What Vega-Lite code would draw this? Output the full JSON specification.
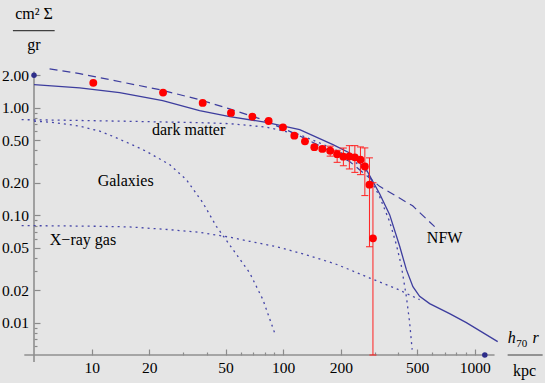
{
  "$schema": "https://vega.github.io/schema/vega-lite/v6.json",
  "width": 511,
  "height": 355,
  "autosize": {"type": "none"},
  "padding": {"left": 34, "top": 0, "right": 0, "bottom": 28},
  "background": "#e5e5e5",
  "config": {"view": {"stroke": null}, "font": "Liberation Serif", "text": {"font": "Liberation Serif"}},
  "datasets": {
    "curves": [
      {"s": "total", "r": 5, "v": 1.637}, {"s": "total", "r": 8.66, "v": 1.525}, {"s": "total", "r": 14.0, "v": 1.379}, {"s": "total", "r": 23.5, "v": 1.162}, {"s": "total", "r": 36.6, "v": 0.938}, {"s": "total", "r": 52.6, "v": 0.825}, {"s": "total", "r": 81.7, "v": 0.73}, {"s": "total", "r": 122, "v": 0.624}, {"s": "total", "r": 182, "v": 0.453}, {"s": "total", "r": 222.5, "v": 0.379}, {"s": "total", "r": 272, "v": 0.265}, {"s": "total", "r": 319, "v": 0.158}, {"s": "total", "r": 359.8, "v": 0.1011}, {"s": "total", "r": 406, "v": 0.0513}, {"s": "total", "r": 440, "v": 0.0311}, {"s": "total", "r": 476, "v": 0.0216}, {"s": "total", "r": 516, "v": 0.01757}, {"s": "total", "r": 582, "v": 0.01502}, {"s": "total", "r": 740, "v": 0.01213}, {"s": "total", "r": 905, "v": 0.01}, {"s": "total", "r": 1319, "v": 0.00666},
      {"s": "nfw", "r": 6.03, "v": 2.291}, {"s": "nfw", "r": 8.66, "v": 2.072}, {"s": "nfw", "r": 22.65, "v": 1.47}, {"s": "nfw", "r": 36.6, "v": 1.187}, {"s": "nfw", "r": 52.6, "v": 0.9725}, {"s": "nfw", "r": 75.4, "v": 0.79}, {"s": "nfw", "r": 112.1, "v": 0.586}, {"s": "nfw", "r": 155.1, "v": 0.443}, {"s": "nfw", "r": 222.5, "v": 0.315}, {"s": "nfw", "r": 319, "v": 0.1853}, {"s": "nfw", "r": 474.5, "v": 0.122}, {"s": "nfw", "r": 618, "v": 0.0782},
      {"s": "dm", "r": 4.31, "v": 0.773}, {"s": "dm", "r": 6.81, "v": 0.765}, {"s": "dm", "r": 15.79, "v": 0.746}, {"s": "dm", "r": 36.6, "v": 0.725}, {"s": "dm", "r": 52.6, "v": 0.71}, {"s": "dm", "r": 81.7, "v": 0.659}, {"s": "dm", "r": 122, "v": 0.561}, {"s": "dm", "r": 182, "v": 0.416}, {"s": "dm", "r": 222.5, "v": 0.346}, {"s": "dm", "r": 272, "v": 0.254}, {"s": "dm", "r": 319, "v": 0.1486}, {"s": "dm", "r": 359.8, "v": 0.087}, {"s": "dm", "r": 390, "v": 0.0532}, {"s": "dm", "r": 414, "v": 0.0339}, {"s": "dm", "r": 440, "v": 0.01745}, {"s": "dm", "r": 457.7, "v": 0.01}, {"s": "dm", "r": 471.6, "v": 0.00561},
      {"s": "gal", "r": 5, "v": 0.749}, {"s": "gal", "r": 6.03, "v": 0.733}, {"s": "gal", "r": 7.38, "v": 0.702}, {"s": "gal", "r": 8.66, "v": 0.673}, {"s": "gal", "r": 11.01, "v": 0.605}, {"s": "gal", "r": 12.92, "v": 0.541}, {"s": "gal", "r": 16.43, "v": 0.448}, {"s": "gal", "r": 19.3, "v": 0.392}, {"s": "gal", "r": 25.55, "v": 0.295}, {"s": "gal", "r": 31.23, "v": 0.214}, {"s": "gal", "r": 38.13, "v": 0.1299}, {"s": "gal", "r": 44.79, "v": 0.0787}, {"s": "gal", "r": 54.7, "v": 0.0478}, {"s": "gal", "r": 66.9, "v": 0.029}, {"s": "gal", "r": 78.4, "v": 0.01637}, {"s": "gal", "r": 90.3, "v": 0.00802},
      {"s": "gas", "r": 4.31, "v": 0.0799}, {"s": "gas", "r": 6.81, "v": 0.0795}, {"s": "gas", "r": 11.01, "v": 0.0787}, {"s": "gas", "r": 15.79, "v": 0.0777}, {"s": "gas", "r": 25.55, "v": 0.0733}, {"s": "gas", "r": 36.6, "v": 0.0692}, {"s": "gas", "r": 52.6, "v": 0.0624}, {"s": "gas", "r": 66.9, "v": 0.0571}, {"s": "gas", "r": 92.1, "v": 0.0509}, {"s": "gas", "r": 122, "v": 0.0445}, {"s": "gas", "r": 185.7, "v": 0.0354}, {"s": "gas", "r": 222.5, "v": 0.0311}, {"s": "gas", "r": 282.9, "v": 0.026}, {"s": "gas", "r": 390, "v": 0.0207}, {"s": "gas", "r": 516, "v": 0.01637}
    ],
    "points": [
      {"r": 10.2, "v": 1.7}, {"r": 23.6, "v": 1.38}, {"r": 38.0, "v": 1.106}, {"r": 53.4, "v": 0.893}, {"r": 69.1, "v": 0.825}, {"r": 84.0, "v": 0.752}, {"r": 99.8, "v": 0.656}, {"r": 114.4, "v": 0.549}, {"r": 130, "v": 0.486}, {"r": 145.5, "v": 0.429}, {"r": 160.2, "v": 0.413}, {"r": 176, "v": 0.398}, {"r": 191.4, "v": 0.369}, {"r": 206.3, "v": 0.35}, {"r": 221.7, "v": 0.352}, {"r": 236.8, "v": 0.345}, {"r": 253.3, "v": 0.328}, {"r": 267.1, "v": 0.284}, {"r": 282.3, "v": 0.192}, {"r": 294.4, "v": 0.0608}
    ],
    "errors": [
      {"r": 160.2, "lo": 0.395, "hi": 0.432}, {"r": 176, "lo": 0.354, "hi": 0.438}, {"r": 191.4, "lo": 0.31, "hi": 0.401}, {"r": 206.3, "lo": 0.288, "hi": 0.421}, {"r": 221.7, "lo": 0.269, "hi": 0.443}, {"r": 236.8, "lo": 0.25, "hi": 0.443}, {"r": 253.3, "lo": 0.238, "hi": 0.431}, {"r": 267.1, "lo": 0.152, "hi": 0.422}, {"r": 282.3, "lo": 0.0508, "hi": 0.341}, {"r": 294.4, "lo": 0.005, "hi": 0.2}
    ],
    "xaxisline": [{"r": 4.45, "r2": 1270, "v": 0.005}],
    "yaxisline": [{"r": 5, "v": 0.0043, "v2": 2.17}],
    "fracs": [{"r": 3.88, "r2": 6.41, "v": 5.2}, {"r": 1487, "r2": 2265, "v": 0.005}],
    "dots": [{"r": 5, "v": 2.0}, {"r": 1130, "v": 0.005}],
    "labels": [
      {"r": 5, "v": 6.685, "t": "cm² Σ"},
      {"r": 5, "v": 3.464, "t": "gr"},
      {"r": 32.1, "v": 0.561, "t": "dark matter"},
      {"r": 15.05, "v": 0.188, "t": "Galaxies"},
      {"r": 9.01, "v": 0.0532, "t": "X−ray gas"},
      {"r": 697, "v": 0.0551, "t": "NFW"},
      {"r": 1824, "v": 0.00321, "t": "kpc"}
    ],
    "italics": [{"r": 1561, "v": 0.00653, "t": "h"}, {"r": 2082, "v": 0.00653, "t": "r"}],
    "subs": [{"r": 1760, "v": 0.00598, "t": "70"}]
  },
  "encoding": {
    "x": {
      "field": "r", "type": "quantitative",
      "scale": {"type": "log", "domain": [5, 2330], "nice": false, "zero": false},
      "axis": {
        "title": null, "domain": false, "grid": false,
        "values": [10, 20, 30, 40, 50, 60, 70, 80, 90, 100, 200, 300, 400, 500, 600, 700, 800, 900, 1000],
        "labelExpr": "indexof([10,20,50,100,200,500,1000], datum.value) >= 0 ? format(datum.value, 'd') : ''",
        "tickSize": {"condition": {"test": "indexof([10,20,50,100,200,500,1000], datum.value) >= 0", "value": -6}, "value": -3},
        "tickColor": "#8a8a8a", "tickWidth": 1.2,
        "labelFont": "Liberation Serif", "labelFontSize": 15.5, "labelColor": "#000000",
        "labelPadding": 11, "labelBaseline": "top", "labelOverlap": false, "labelFlush": false, "labelBound": false
      }
    },
    "y": {
      "field": "v", "type": "quantitative",
      "scale": {"type": "log", "domain": [0.005, 10.03], "nice": false, "zero": false},
      "axis": {
        "title": null, "domain": false, "grid": false,
        "values": [0.006, 0.007, 0.008, 0.009, 0.01, 0.02, 0.03, 0.04, 0.05, 0.06, 0.07, 0.08, 0.09, 0.1, 0.2, 0.3, 0.4, 0.5, 0.6, 0.7, 0.8, 0.9, 1, 2],
        "labelExpr": "indexof([0.01,0.02,0.05,0.1,0.2,0.5,1,2], datum.value) >= 0 ? format(datum.value, '.2f') : ''",
        "tickSize": {"condition": {"test": "indexof([0.01,0.02,0.05,0.1,0.2,0.5,1,2], datum.value) >= 0", "value": -6}, "value": -3},
        "tickColor": "#8a8a8a", "tickWidth": 1.2,
        "labelFont": "Liberation Serif", "labelFontSize": 15.5, "labelColor": "#000000",
        "labelPadding": 11.5, "labelOverlap": false, "labelFlush": false, "labelBound": false
      }
    }
  },
  "layer": [
    {"data": {"name": "xaxisline"}, "mark": {"type": "rule", "color": "#8f8f8f", "strokeWidth": 1.6}, "encoding": {"x2": {"field": "r2"}}},
    {"data": {"name": "yaxisline"}, "mark": {"type": "rule", "color": "#8f8f8f", "strokeWidth": 1.6}, "encoding": {"y2": {"field": "v2"}}},
    {"data": {"name": "curves"}, "transform": [{"filter": "datum.s == 'dm' || datum.s == 'gal' || datum.s == 'gas'"}], "mark": {"type": "line", "color": "#4545a8", "strokeWidth": 1.3, "strokeDash": [2, 4]}, "encoding": {"detail": {"field": "s"}}},
    {"data": {"name": "curves"}, "transform": [{"filter": "datum.s == 'nfw'"}], "mark": {"type": "line", "color": "#3d3d9e", "strokeWidth": 1.2, "strokeDash": [8, 5]}, "encoding": {}},
    {"data": {"name": "curves"}, "transform": [{"filter": "datum.s == 'total'"}], "mark": {"type": "line", "color": "#3d3d9e", "strokeWidth": 1.3}, "encoding": {}},
    {"data": {"name": "errors"}, "mark": {"type": "rule", "color": "#ff2020", "strokeWidth": 1}, "encoding": {"y": {"field": "lo", "type": "quantitative", "scale": {"type": "log", "domain": [0.005, 10.03], "nice": false, "zero": false}}, "y2": {"field": "hi"}}},
    {"data": {"name": "errors"}, "mark": {"type": "tick", "orient": "horizontal", "color": "#ff2020", "size": 7, "thickness": 1, "opacity": 1}, "encoding": {"y": {"field": "lo", "type": "quantitative", "scale": {"type": "log", "domain": [0.005, 10.03], "nice": false, "zero": false}}}},
    {"data": {"name": "errors"}, "mark": {"type": "tick", "orient": "horizontal", "color": "#ff2020", "size": 7, "thickness": 1, "opacity": 1}, "encoding": {"y": {"field": "hi", "type": "quantitative", "scale": {"type": "log", "domain": [0.005, 10.03], "nice": false, "zero": false}}}},
    {"data": {"name": "points"}, "mark": {"type": "circle", "color": "#ff0000", "size": 62, "opacity": 1}},
    {"data": {"name": "dots"}, "mark": {"type": "circle", "color": "#2e2e8a", "size": 30, "opacity": 1}},
    {"data": {"name": "fracs"}, "mark": {"type": "rule", "color": "#404040", "strokeWidth": 1.2}, "encoding": {"x2": {"field": "r2"}}},
    {"data": {"name": "labels"}, "mark": {"type": "text", "font": "Liberation Serif", "fontSize": 16, "align": "center", "baseline": "alphabetic", "color": "#000000"}, "encoding": {"text": {"field": "t"}}},
    {"data": {"name": "italics"}, "mark": {"type": "text", "font": "Liberation Serif", "fontSize": 16, "fontStyle": "italic", "align": "center", "baseline": "alphabetic", "color": "#000000"}, "encoding": {"text": {"field": "t"}}},
    {"data": {"name": "subs"}, "mark": {"type": "text", "font": "Liberation Serif", "fontSize": 11, "align": "center", "baseline": "alphabetic", "color": "#000000"}, "encoding": {"text": {"field": "t"}}}
  ]
}
